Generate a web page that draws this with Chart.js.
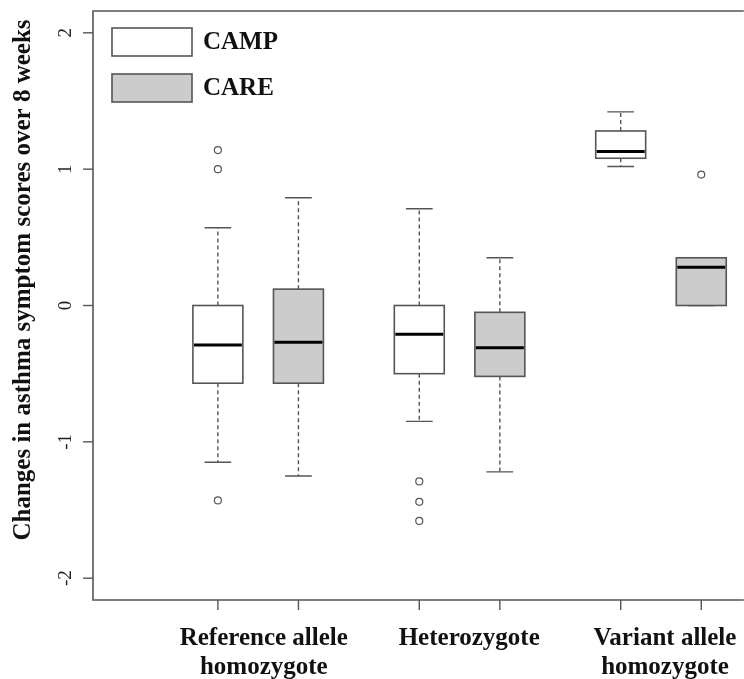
<!DOCTYPE html>
<html>
<head>
<meta charset="utf-8">
<script src="https://cdn.jsdelivr.net/npm/chart.js@4"></script>
<style>
  body { margin: 0; background: #fff; overflow: hidden; }
</style>
</head>
<body>
<canvas id="myChart" width="744" height="679"></canvas>
<script>
const ctx = document.getElementById("myChart");

// groups along the x axis
const categoryLines = [["Reference allele", "homozygote"], ["Heterozygote"], ["Variant allele", "homozygote"]];
const labelPos = [1.57, 4.12, 6.55];
const campPos = [1, 3.5, 6];
const carePos = [2, 4.5, 7];
const yTicks = [-2, -1, 0, 1, 2];

// CAMP box stats
const campLow = [-1.15, -0.85, 1.02];
const campQ1 = [-0.57, -0.5, 1.08];
const campMed = [-0.29, -0.21, 1.13];
const campQ3 = [0.0, 0.0, 1.28];
const campHigh = [0.57, 0.71, 1.42];
const campOut = [[1.14, 1.0, -1.43], [-1.29, -1.44, -1.58], []];

// CARE box stats
const careLow = [-1.25, -1.22, 0.0];
const careQ1 = [-0.57, -0.52, 0.0];
const careMed = [-0.27, -0.31, 0.28];
const careQ3 = [0.12, -0.05, 0.35];
const careHigh = [0.79, 0.35, 0.35];
const careOut = [[], [], [0.96]];

const lineCol = "#555";
const serif = "'Liberation Serif', 'Times New Roman', serif";

function outlierPoints(pos, out) {
  const pts = [];
  out.forEach((vals, i) => vals.forEach((v) => pts.push({ x: pos[i], y: v })));
  return pts;
}

const series = [
  { pos: campPos, low: campLow, q1: campQ1, med: campMed, q3: campQ3, high: campHigh, fill: "#ffffff" },
  { pos: carePos, low: careLow, q1: careQ1, med: careMed, q3: careQ3, high: careHigh, fill: "#cccccc" },
];

const boxPlugin = {
  id: "boxes",
  beforeDatasetsDraw(chart) {
    const c = chart.ctx;
    const xs = chart.scales.x;
    const ys = chart.scales.y;
    const halfW = 0.31, capW = 0.166;
    c.save();
    series.forEach((s) => {
      s.pos.forEach((p, i) => {
        const xc = xs.getPixelForValue(p);
        const xl = xs.getPixelForValue(p - halfW);
        const xr = xs.getPixelForValue(p + halfW);
        const cl = xs.getPixelForValue(p - capW);
        const cr = xs.getPixelForValue(p + capW);
        const yLow = ys.getPixelForValue(s.low[i]);
        const yQ1 = ys.getPixelForValue(s.q1[i]);
        const yMed = ys.getPixelForValue(s.med[i]);
        const yQ3 = ys.getPixelForValue(s.q3[i]);
        const yHigh = ys.getPixelForValue(s.high[i]);
        c.strokeStyle = lineCol;
        c.lineWidth = 1.4;
        // whiskers
        c.setLineDash([4, 3]);
        c.beginPath();
        c.moveTo(xc, yQ3); c.lineTo(xc, yHigh);
        c.moveTo(xc, yQ1); c.lineTo(xc, yLow);
        c.stroke();
        c.setLineDash([]);
        c.beginPath();
        c.moveTo(cl, yHigh); c.lineTo(cr, yHigh);
        c.moveTo(cl, yLow); c.lineTo(cr, yLow);
        c.stroke();
        // box
        c.fillStyle = s.fill;
        c.fillRect(xl, yQ3, xr - xl, yQ1 - yQ3);
        c.lineWidth = 1.6;
        c.strokeRect(xl, yQ3, xr - xl, yQ1 - yQ3);
        // median
        c.strokeStyle = "#000";
        c.lineWidth = 3;
        c.beginPath();
        c.moveTo(xl + 1, yMed); c.lineTo(xr - 1, yMed);
        c.stroke();
      });
    });
    c.restore();
  },
  afterDraw(chart) {
    const c = chart.ctx;
    const a = chart.chartArea;
    const xs = chart.scales.x;
    const ys = chart.scales.y;
    c.save();
    // frame
    c.strokeStyle = lineCol;
    c.lineWidth = 1.6;
    c.beginPath();
    c.moveTo(a.right + 5, a.top);
    c.lineTo(a.left, a.top);
    c.lineTo(a.left, a.bottom);
    c.lineTo(a.right + 5, a.bottom);
    c.stroke();
    // y ticks
    c.lineWidth = 1.4;
    c.fillStyle = "#222";
    c.font = "19px " + serif;
    c.textAlign = "center";
    c.textBaseline = "middle";
    yTicks.forEach((t) => {
      const y = ys.getPixelForValue(t);
      c.beginPath();
      c.moveTo(a.left - 10, y); c.lineTo(a.left, y);
      c.stroke();
      c.save();
      c.translate(a.left - 27, y);
      c.rotate(-Math.PI / 2);
      c.fillText(String(t), 0, 0);
      c.restore();
    });
    // x ticks
    campPos.concat(carePos).forEach((p) => {
      const x = xs.getPixelForValue(p);
      c.beginPath();
      c.moveTo(x, a.bottom); c.lineTo(x, a.bottom + 10);
      c.stroke();
    });
    // category labels
    c.fillStyle = "#111";
    c.font = "bold 25px " + serif;
    c.textBaseline = "alphabetic";
    categoryLines.forEach((lines, i) => {
      const x = xs.getPixelForValue(labelPos[i]);
      lines.forEach((ln, j) => c.fillText(ln, x, a.bottom + 45 + j * 29));
    });
    // y title
    c.save();
    c.translate(24, a.top + 269);
    c.rotate(-Math.PI / 2);
    c.textBaseline = "middle";
    c.fillText("Changes in asthma symptom scores over 8 weeks", 0, 0);
    c.restore();
    // legend
    const legend = [["CAMP", "#ffffff", 17], ["CARE", "#cccccc", 63]];
    legend.forEach(([name, fill, dy]) => {
      c.fillStyle = fill;
      c.fillRect(a.left + 19, a.top + dy, 80, 28);
      c.strokeStyle = lineCol;
      c.lineWidth = 1.6;
      c.strokeRect(a.left + 19, a.top + dy, 80, 28);
      c.fillStyle = "#111";
      c.textAlign = "left";
      c.textBaseline = "middle";
      c.font = "bold 25px " + serif;
      c.fillText(name, a.left + 110, a.top + dy + 15);
    });
    c.restore();
  },
};

new Chart(ctx, {
  type: "scatter",
  data: {
    datasets: [
      {
        label: "CAMP",
        data: outlierPoints(campPos, campOut),
        pointStyle: "circle",
        pointRadius: 3.5,
        backgroundColor: "rgba(0,0,0,0)",
        borderColor: lineCol,
        borderWidth: 1.2,
      },
      {
        label: "CARE",
        data: outlierPoints(carePos, careOut),
        pointStyle: "circle",
        pointRadius: 3.5,
        backgroundColor: "rgba(0,0,0,0)",
        borderColor: lineCol,
        borderWidth: 1.2,
      },
    ],
  },
  options: {
    responsive: false,
    animation: false,
    layout: { padding: { left: 93, top: 11, right: 0, bottom: 79 } },
    plugins: { legend: { display: false }, tooltip: { enabled: false } },
    scales: {
      x: { type: "linear", min: -0.55, max: 7.466, display: false },
      y: { type: "linear", min: -2.16, max: 2.16, display: false },
    },
  },
  plugins: [boxPlugin],
});
</script>
</body>
</html>
